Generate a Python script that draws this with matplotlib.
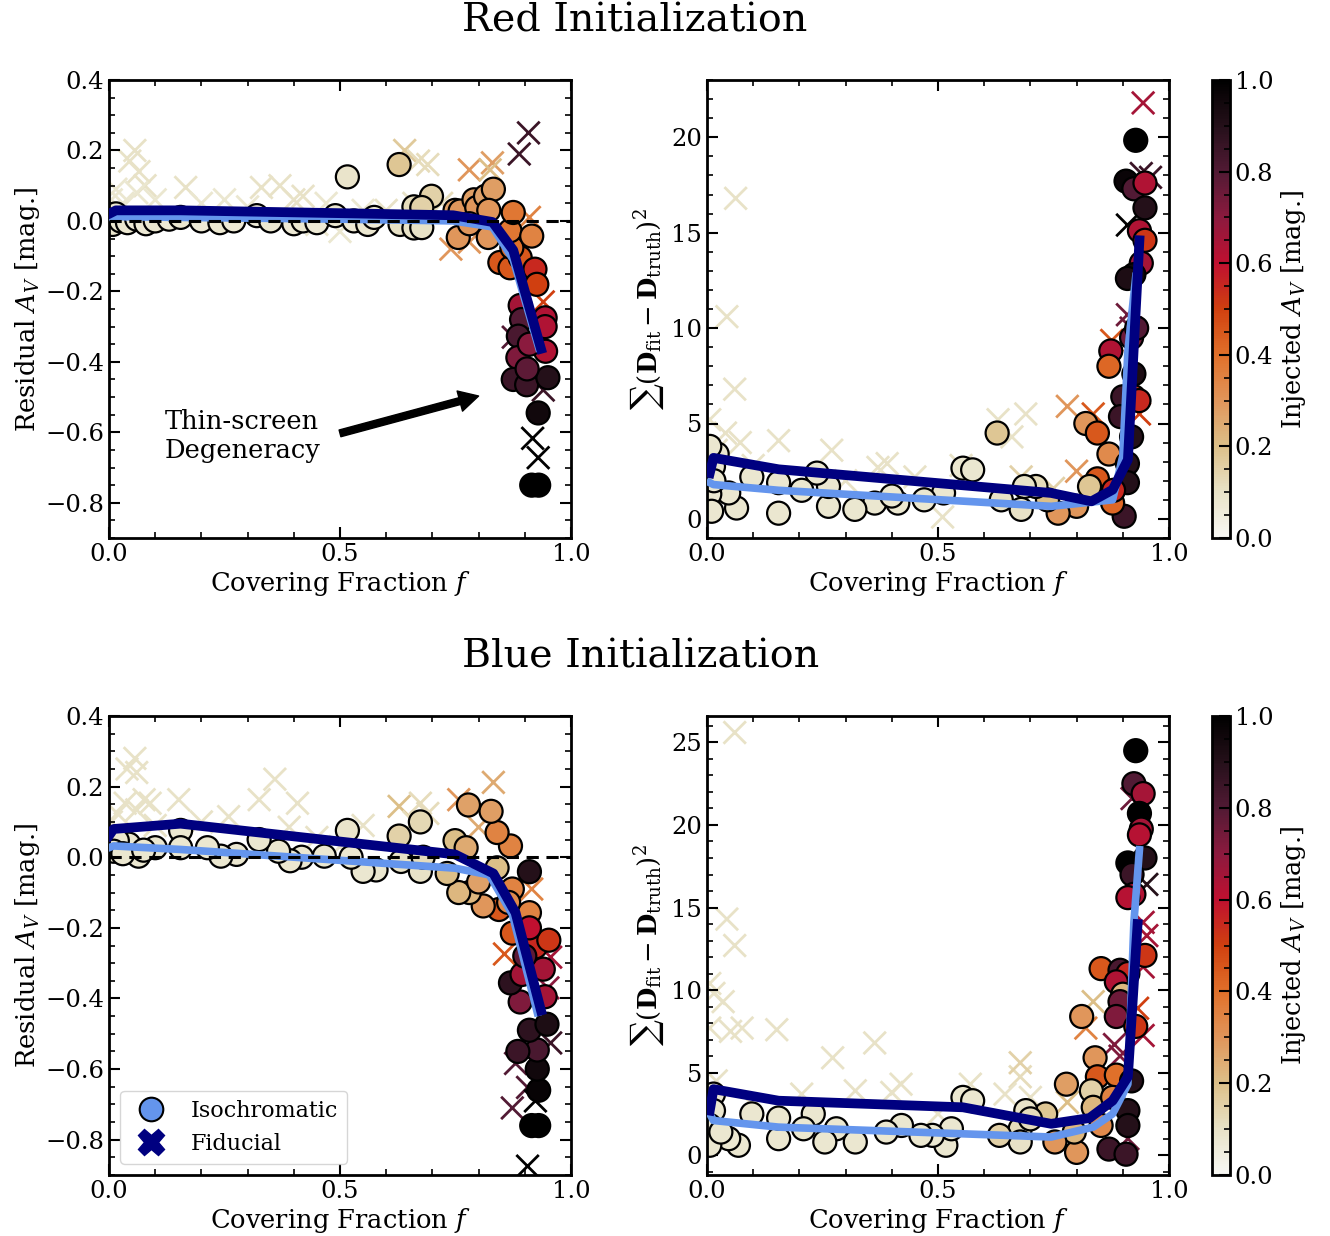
import numpy as np
import matplotlib
matplotlib.use("Agg")
import matplotlib.pyplot as plt
from matplotlib.colors import LinearSegmentedColormap, Normalize
from matplotlib.cm import ScalarMappable
from matplotlib.lines import Line2D
from matplotlib.ticker import AutoMinorLocator, MultipleLocator

plt.rcParams['font.family'] = ['DejaVu Serif']
plt.rcParams['mathtext.fontset'] = 'dejavuserif'

# ---- colormap (cream -> orange -> red -> black)
cmap = LinearSegmentedColormap.from_list('av', [
    (0.0, '#f8f8f4'), (0.1, '#e8e2c6'), (0.2, '#dcbf88'), (0.3, '#e0955a'),
    (0.4, '#e0702a'), (0.5, '#d0400f'), (0.6, '#c01030'), (0.7, '#8c1a3e'),
    (0.8, '#521a34'), (0.9, '#25101a'), (1.0, '#000000')])
norm = Normalize(0, 1)

# ================= Red initialization: residual A_V =================
red_res_iso_f = [0.003, 0.008, 0.015, 0.025, 0.04, 0.06, 0.08, 0.1, 0.13, 0.155,
                 0.2, 0.24, 0.27, 0.32, 0.35, 0.4, 0.42, 0.45, 0.49, 0.516,
                 0.53, 0.56, 0.574, 0.628, 0.63, 0.66, 0.698, 0.66, 0.677, 0.677,
                 0.749, 0.756, 0.76, 0.79, 0.796, 0.815, 0.832, 0.822, 0.821, 0.78,
                 0.846, 0.868, 0.89, 0.872, 0.868, 0.915, 0.875, 0.922, 0.926, 0.89,
                 0.893, 0.944, 0.944, 0.886, 0.885, 0.945, 0.875, 0.904, 0.95, 0.929,
                 0.915, 0.93, 0.91, 0.905]
red_res_iso_y = [0.01, -0.01, 0.02, 0.0, -0.005, 0.005, -0.008, 0.0, 0.005, 0.01,
                 0.0, -0.005, 0.0, 0.015, 0.0, -0.008, 0.0, -0.005, 0.015, 0.125,
                 0.0, -0.01, 0.01, 0.16, -0.01, 0.04, 0.07, -0.02, 0.038, -0.019,
                 0.03, -0.047, 0.028, 0.06, 0.038, 0.07, 0.09, 0.03, -0.047, -0.008,
                 -0.118, -0.133, -0.104, -0.076, -0.028, -0.043, 0.024, -0.137, -0.18, -0.24,
                 -0.28, -0.275, -0.30, -0.327, -0.388, -0.37, -0.45, -0.465, -0.445, -0.545,
                 -0.75, -0.75, -0.35, -0.42]
red_res_iso_av = [0.08, 0.08, 0.08, 0.08, 0.08, 0.07, 0.07, 0.08, 0.07, 0.08,
                  0.07, 0.08, 0.07, 0.07, 0.08, 0.07, 0.08, 0.07, 0.08, 0.09,
                  0.07, 0.08, 0.07, 0.18, 0.1, 0.12, 0.15, 0.1, 0.15, 0.1,
                  0.27, 0.3, 0.3, 0.28, 0.3, 0.27, 0.28, 0.3, 0.3, 0.3,
                  0.45, 0.45, 0.45, 0.4, 0.38, 0.35, 0.38, 0.55, 0.5, 0.65,
                  0.8, 0.63, 0.63, 0.82, 0.72, 0.63, 0.85, 0.85, 0.9, 0.95,
                  1.0, 1.0, 0.7, 0.78]

red_res_fid_f = [0.005, 0.015, 0.03, 0.045, 0.056, 0.065, 0.078, 0.06, 0.1, 0.166,
                 0.2, 0.25, 0.3, 0.33, 0.37, 0.4, 0.42, 0.47, 0.5, 0.55,
                 0.6, 0.64, 0.67, 0.69, 0.66, 0.74, 0.78, 0.83, 0.825, 0.78,
                 0.888, 0.908, 0.91, 0.94, 0.875, 0.917, 0.929, 0.94, 0.72, 0.45]
red_res_fid_y = [0.06, 0.09, 0.05, 0.17, 0.2, 0.14, 0.1, 0.08, 0.06, 0.095,
                 0.05, 0.06, 0.04, 0.095, 0.1, 0.06, 0.07, 0.05, -0.03, 0.03,
                 0.03, 0.2, 0.17, 0.16, 0.05, -0.08, 0.145, 0.165, 0.145, -0.06,
                 0.19, 0.25, 0.01, -0.23, -0.33, -0.617, -0.672, -0.48, 0.05, -0.01]
red_res_fid_av = [0.08, 0.08, 0.08, 0.1, 0.1, 0.1, 0.1, 0.08, 0.08, 0.1,
                  0.08, 0.08, 0.08, 0.1, 0.1, 0.1, 0.1, 0.08, 0.08, 0.08,
                  0.1, 0.17, 0.12, 0.12, 0.1, 0.3, 0.3, 0.28, 0.2, 0.3,
                  0.85, 0.85, 0.35, 0.5, 0.8, 1.0, 1.0, 0.85, 0.12, 0.08]

red_res_fid_line_f = [0.0, 0.015, 0.155, 0.5, 0.745, 0.83, 0.875, 0.935]
red_res_fid_line_y = [0.02, 0.03, 0.03, 0.022, 0.016, -0.003, -0.083, -0.363]
red_res_iso_line_f = [0.0, 0.015, 0.155, 0.5, 0.745, 0.83, 0.875, 0.93]
red_res_iso_line_y = [0.01, 0.012, 0.01, 0.005, 0.0, -0.017, -0.11, -0.36]

# ================= Red initialization: sum of squares =================
red_chi_iso_f = [0.928, 0.907, 0.924, 0.948, 0.948, 0.936, 0.948, 0.94, 0.924, 0.919,
                 0.874, 0.87, 0.924, 0.924, 0.9, 0.895, 0.919, 0.82, 0.845, 0.87,
                 0.845, 0.91, 0.91, 0.903, 0.878, 0.828, 0.8, 0.76, 0.737, 0.712,
                 0.687, 0.68, 0.637, 0.628, 0.554, 0.575, 0.512, 0.47, 0.413, 0.363,
                 0.32, 0.263, 0.263, 0.238, 0.205, 0.155, 0.155, 0.097, 0.064, 0.047,
                 0.022, 0.014, 0.006, 0.006, 0.01, 0.015, 0.935, 0.93, 0.4, 0.88,
                 0.91]
red_chi_iso_y = [19.84, 17.7, 17.3, 17.6, 16.3, 15.1, 14.6, 13.4, 12.8, 9.5,
                 8.8, 8.0, 7.6, 6.4, 6.4, 5.36, 4.3, 5.0, 4.5, 3.4,
                 2.1, 2.9, 1.9, 0.14, 0.83, 1.7, 0.66, 0.3, 1.0, 1.7,
                 1.7, 0.5, 1.0, 4.5, 2.66, 2.57, 1.36, 1.0, 0.83, 0.83,
                 0.5, 0.66, 1.7, 2.4, 1.5, 0.3, 1.9, 2.2, 0.57, 1.36,
                 3.4, 2.75, 3.8, 1.3, 0.4, 2.0, 6.2, 10.0, 1.2, 1.5,
                 12.6]
red_chi_iso_av = [1.0, 0.97, 0.8, 0.63, 0.9, 0.63, 0.52, 0.65, 0.95, 0.75,
                  0.63, 0.42, 0.92, 0.52, 0.85, 0.85, 0.9, 0.3, 0.45, 0.33,
                  0.45, 0.9, 0.9, 0.85, 0.42, 0.18, 0.3, 0.3, 0.2, 0.12,
                  0.1, 0.1, 0.1, 0.18, 0.08, 0.08, 0.08, 0.08, 0.08, 0.08,
                  0.08, 0.08, 0.08, 0.08, 0.08, 0.08, 0.08, 0.08, 0.08, 0.08,
                  0.08, 0.08, 0.08, 0.08, 0.08, 0.08, 0.55, 0.8, 0.08, 0.55,
                  0.92]

red_chi_fid_f = [0.062, 0.043, 0.06, 0.006, 0.04, 0.072, 0.155, 0.27, 0.37, 0.39,
                 0.51, 0.63, 0.69, 0.66, 0.78, 0.876, 0.91, 0.918, 0.944, 0.96,
                 0.91, 0.936, 0.836, 0.68, 0.8, 0.3, 0.45, 0.55, 0.02, 0.1,
                 0.94, 0.75]
red_chi_fid_y = [16.8, 10.6, 6.8, 5.2, 4.5, 4.0, 4.1, 3.6, 2.7, 2.9,
                 0.1, 5.2, 5.5, 4.3, 5.9, 9.35, 10.7, 10.0, 21.8, 17.9,
                 15.4, 5.5, 5.5, 2.2, 2.5, 2.0, 2.2, 2.8, 3.6, 2.8,
                 18.1, 1.6]
red_chi_fid_av = [0.1, 0.1, 0.1, 0.1, 0.1, 0.1, 0.1, 0.1, 0.1, 0.1,
                  0.1, 0.1, 0.1, 0.1, 0.3, 0.45, 0.75, 0.75, 0.65, 0.85,
                  1.0, 0.5, 0.45, 0.15, 0.3, 0.1, 0.1, 0.1, 0.1, 0.1,
                  0.85, 0.15]

red_chi_fid_line_f = [0.006, 0.014, 0.155, 0.745, 0.832, 0.878, 0.911, 0.936]
red_chi_fid_line_y = [2.4, 3.2, 2.6, 1.36, 0.92, 1.53, 3.1, 14.6]
red_chi_iso_line_f = [0.006, 0.014, 0.155, 0.745, 0.878, 0.9, 0.911, 0.928]
red_chi_iso_line_y = [1.9, 1.8, 1.5, 0.66, 1.0, 3.3, 8.8, 12.7]

# ================= Blue initialization: residual A_V =================
blue_res_iso_f = [0.915, 0.93, 0.93, 0.927, 0.927, 0.885, 0.91, 0.948, 0.944, 0.89,
                  0.869, 0.894, 0.94, 0.923, 0.952, 0.873, 0.844, 0.91, 0.873, 0.91,
                  0.865, 0.81, 0.78, 0.757, 0.8, 0.84, 0.869, 0.84, 0.827, 0.778,
                  0.749, 0.773, 0.732, 0.674, 0.628, 0.632, 0.674, 0.68, 0.578, 0.55,
                  0.516, 0.524, 0.466, 0.417, 0.392, 0.367, 0.325, 0.276, 0.242, 0.213,
                  0.155, 0.155, 0.1, 0.064, 0.043, 0.018, 0.01, 0.03, 0.075, 0.9,
                  0.91]
blue_res_iso_y = [-0.76, -0.76, -0.66, -0.60, -0.546, -0.55, -0.49, -0.473, -0.395, -0.41,
                  -0.356, -0.332, -0.317, -0.254, -0.235, -0.215, -0.148, -0.157, -0.09, -0.041,
                  -0.128, -0.138, -0.1, -0.1, -0.07, -0.03, 0.032, 0.07, 0.13, 0.148,
                  0.047, 0.027, -0.046, 0.1, 0.06, -0.012, -0.04, 0.0, -0.036, -0.04,
                  0.076, 0.0, 0.003, 0.0, -0.01, 0.017, 0.05, 0.008, 0.003, 0.027,
                  0.076, 0.027, 0.027, 0.003, 0.037, 0.047, 0.017, 0.01, 0.02, -0.28,
                  -0.2]
blue_res_iso_av = [1.0, 1.0, 0.98, 0.95, 0.82, 0.85, 0.88, 0.92, 0.65, 0.72,
                   0.88, 0.65, 0.65, 0.55, 0.52, 0.45, 0.45, 0.35, 0.35, 0.9,
                   0.33, 0.3, 0.22, 0.22, 0.27, 0.2, 0.35, 0.35, 0.28, 0.27,
                   0.2, 0.25, 0.2, 0.13, 0.15, 0.1, 0.1, 0.12, 0.08, 0.08,
                   0.09, 0.08, 0.08, 0.08, 0.08, 0.08, 0.08, 0.08, 0.08, 0.08,
                   0.08, 0.08, 0.08, 0.08, 0.08, 0.08, 0.08, 0.08, 0.08, 0.78,
                   0.6]

blue_res_fid_f = [0.056, 0.039, 0.06, 0.076, 0.035, 0.018, 0.06, 0.089, 0.151, 0.259,
                  0.325, 0.359, 0.408, 0.39, 0.45, 0.628, 0.674, 0.69, 0.757, 0.8,
                  0.832, 0.915, 0.856, 0.956, 0.88, 0.873, 0.906, 0.923, 0.906, 0.956,
                  0.005, 0.1, 0.2, 0.5, 0.55, 0.95, 0.66]
blue_res_fid_y = [0.28, 0.25, 0.24, 0.163, 0.153, 0.124, 0.134, 0.153, 0.163, 0.115,
                  0.163, 0.221, 0.153, 0.085, 0.056, 0.144, 0.153, 0.124, 0.163, 0.085,
                  0.212, -0.09, -0.274, -0.283, -0.584, -0.71, -0.652, -0.69, -0.875, -0.526,
                  0.1, 0.09, 0.1, 0.03, 0.09, -0.37, 0.1]
blue_res_fid_av = [0.1, 0.1, 0.1, 0.1, 0.1, 0.1, 0.1, 0.1, 0.1, 0.1,
                   0.1, 0.1, 0.1, 0.1, 0.1, 0.2, 0.12, 0.12, 0.3, 0.25,
                   0.25, 0.35, 0.45, 0.65, 0.8, 0.8, 0.8, 1.0, 1.0, 0.85,
                   0.1, 0.1, 0.1, 0.1, 0.1, 0.7, 0.12]

blue_res_fid_line_f = [0.0, 0.01, 0.155, 0.749, 0.832, 0.88, 0.935]
blue_res_fid_line_y = [0.061, 0.08, 0.095, 0.008, -0.046, -0.157, -0.434]
blue_res_iso_line_f = [0.0, 0.01, 0.155, 0.749, 0.823, 0.873, 0.927]
blue_res_iso_line_y = [0.027, 0.032, 0.022, -0.031, -0.05, -0.162, -0.44]

# ================= Blue initialization: sum of squares =================
blue_chi_iso_f = [0.928, 0.924, 0.944, 0.936, 0.94, 0.936, 0.911, 0.948, 0.92, 0.924,
                  0.911, 0.948, 0.853, 0.894, 0.911, 0.886, 0.9, 0.894, 0.886, 0.928,
                  0.811, 0.84, 0.845, 0.886, 0.919, 0.778, 0.832, 0.836, 0.878, 0.911,
                  0.911, 0.853, 0.87, 0.907, 0.8, 0.795, 0.753, 0.733, 0.69, 0.678,
                  0.678, 0.633, 0.554, 0.575, 0.517, 0.529, 0.488, 0.463, 0.421, 0.388,
                  0.321, 0.28, 0.255, 0.23, 0.209, 0.155, 0.155, 0.097, 0.068, 0.047,
                  0.014, 0.014, 0.006, 0.006, 0.03, 0.7]
blue_chi_iso_y = [24.5, 22.5, 21.9, 20.7, 19.75, 19.4, 17.7, 18.0, 17.0, 15.8,
                  15.6, 12.1, 11.3, 11.2, 11.0, 10.5, 9.75, 9.3, 8.4, 7.8,
                  8.4, 5.9, 4.75, 4.85, 4.5, 4.3, 3.9, 2.9, 3.5, 2.7,
                  1.8, 1.8, 0.37, 0.06, 0.17, 1.4, 0.8, 2.5, 2.7, 1.6,
                  0.8, 1.2, 3.5, 3.3, 0.6, 1.6, 1.2, 1.2, 1.8, 1.4,
                  0.8, 1.6, 0.8, 2.5, 1.6, 1.0, 2.25, 2.5, 0.6, 1.0,
                  3.7, 2.7, 1.8, 0.6, 1.4, 2.2]
blue_chi_iso_av = [1.0, 0.8, 0.65, 1.0, 0.65, 0.62, 1.0, 0.9, 0.85, 0.63,
                   0.62, 0.52, 0.45, 0.82, 0.55, 0.63, 0.22, 0.75, 0.72, 0.52,
                   0.3, 0.3, 0.45, 0.4, 0.9, 0.28, 0.15, 0.22, 0.35, 0.9,
                   0.9, 0.33, 0.85, 0.85, 0.3, 0.22, 0.3, 0.18, 0.1, 0.12,
                   0.1, 0.15, 0.08, 0.08, 0.08, 0.08, 0.08, 0.08, 0.08, 0.08,
                   0.08, 0.08, 0.08, 0.08, 0.08, 0.08, 0.08, 0.08, 0.08, 0.08,
                   0.08, 0.08, 0.08, 0.08, 0.08, 0.12]

blue_chi_fid_f = [0.06, 0.043, 0.06, 0.006, 0.015, 0.035, 0.006, 0.051, 0.076, 0.151,
                  0.272, 0.363, 0.321, 0.205, 0.4, 0.42, 0.57, 0.678, 0.678, 0.645,
                  0.836, 0.82, 0.882, 0.894, 0.944, 0.952, 0.944, 0.932, 0.944, 0.952,
                  0.911, 0.92, 0.78, 0.7, 0.1, 0.02, 0.5]
blue_chi_fid_y = [25.6, 14.3, 12.7, 10.4, 9.8, 9.3, 7.7, 7.5, 7.7, 7.6,
                  5.9, 6.8, 3.9, 3.7, 3.8, 4.3, 4.3, 4.75, 5.6, 3.7,
                  9.3, 7.7, 6.7, 6.0, 14.1, 13.3, 11.4, 8.9, 7.25, 16.4,
                  1.0, 21.6, 3.2, 3.5, 3.0, 4.5, 2.5]
blue_chi_fid_av = [0.1, 0.1, 0.1, 0.1, 0.1, 0.1, 0.1, 0.1, 0.1, 0.1,
                   0.1, 0.1, 0.1, 0.1, 0.1, 0.1, 0.1, 0.12, 0.15, 0.1,
                   0.2, 0.35, 0.72, 0.72, 0.65, 0.65, 0.65, 0.5, 0.65, 0.9,
                   0.75, 0.75, 0.2, 0.1, 0.1, 0.1, 0.1]

blue_chi_fid_line_f = [0.006, 0.014, 0.155, 0.554, 0.745, 0.828, 0.878, 0.911, 0.932]
blue_chi_fid_line_y = [2.7, 4.0, 3.3, 2.9, 1.9, 2.25, 3.3, 4.75, 14.0]
blue_chi_iso_line_f = [0.006, 0.014, 0.155, 0.745, 0.836, 0.878, 0.911, 0.924, 0.936]
blue_chi_iso_line_y = [2.5, 2.1, 1.7, 1.1, 1.7, 2.5, 4.3, 14.1, 18.5]

W, H = 1330, 1236
fig = plt.figure(figsize=(W / 100, H / 100), dpi=100)

TICK_FS = 17.5
LABEL_FS = 18.5


def px_axes(l, t, r, b):
    return fig.add_axes([l / W, 1 - b / H, (r - l) / W, (b - t) / H])


def style(ax):
    ax.tick_params(which='both', direction='in', top=True, right=True, labelsize=TICK_FS)
    ax.tick_params(which='major', length=8, width=1.5)
    ax.tick_params(which='minor', length=4, width=1.2)
    for s in ax.spines.values():
        s.set_linewidth(2)
    ax.xaxis.set_minor_locator(AutoMinorLocator(5))
    ax.yaxis.set_minor_locator(AutoMinorLocator())


def panel(ax, isof, isoy, isoc, fidf, fidy, fidc, flf, fly, ilf, ily):
    ax.scatter(fidf, fidy, c=fidc, cmap=cmap, norm=norm, marker='x', s=260,
               linewidths=2, zorder=1)
    ax.scatter(isof, isoy, c=isoc, cmap=cmap, norm=norm, marker='o', s=275,
               edgecolors='black', linewidths=1.6, zorder=2)
    ax.plot(ilf, ily, color='cornflowerblue', lw=5.5, zorder=3)
    ax.plot(flf, fly, color='navy', lw=7, zorder=4)
    ax.set_xlim(0, 1)
    ax.xaxis.set_major_locator(MultipleLocator(0.5))
    ax.set_xlabel('Covering Fraction $f$', fontsize=LABEL_FS, labelpad=2)
    style(ax)


def res_axes(ax):
    ax.axhline(0, color='black', ls='--', lw=2.2, zorder=5, dashes=(4, 2.5))
    ax.set_ylim(-0.9, 0.4)
    ax.yaxis.set_major_locator(MultipleLocator(0.2))
    ax.set_ylabel('Residual $A_V$ [mag.]', fontsize=LABEL_FS, labelpad=2)


chi_label = r'$\sum(\mathbf{D}_{\rm fit}-\mathbf{D}_{\rm truth})^2$'

# ---- Red row
ax1 = px_axes(109, 80, 571, 538)
panel(ax1, red_res_iso_f, red_res_iso_y, red_res_iso_av, red_res_fid_f, red_res_fid_y,
      red_res_fid_av, red_res_fid_line_f, red_res_fid_line_y, red_res_iso_line_f, red_res_iso_line_y)
res_axes(ax1)
ax1.text(0.12, -0.61, 'Thin-screen\nDegeneracy', fontsize=LABEL_FS, va='center', ha='left')
ax1.annotate('', xy=(0.80, -0.497), xytext=(0.50, -0.603),
             arrowprops=dict(facecolor='black', edgecolor='black', width=5,
                             headwidth=15, headlength=14, shrink=0))

ax2 = px_axes(707, 80, 1169, 538)
panel(ax2, red_chi_iso_f, red_chi_iso_y, red_chi_iso_av, red_chi_fid_f, red_chi_fid_y,
      red_chi_fid_av, red_chi_fid_line_f, red_chi_fid_line_y, red_chi_iso_line_f, red_chi_iso_line_y)
ax2.set_ylim(-1, 23)
ax2.yaxis.set_major_locator(MultipleLocator(5))
ax2.set_ylabel(chi_label, fontsize=LABEL_FS)

# ---- Blue row
ax3 = px_axes(109, 716, 571, 1175)
panel(ax3, blue_res_iso_f, blue_res_iso_y, blue_res_iso_av, blue_res_fid_f, blue_res_fid_y,
      blue_res_fid_av, blue_res_fid_line_f, blue_res_fid_line_y, blue_res_iso_line_f, blue_res_iso_line_y)
res_axes(ax3)
handles = [Line2D([], [], ls='', marker='o', markersize=17, markerfacecolor='cornflowerblue',
                  markeredgecolor='black', markeredgewidth=1.5),
           Line2D([], [], ls='', marker='X', markersize=19, color='navy')]
ax3.legend(handles, ['Isochromatic', 'Fiducial'], loc='lower left', fontsize=16,
           handletextpad=0.8, borderpad=0.4, labelspacing=0.5)

ax4 = px_axes(707, 716, 1169, 1175)
panel(ax4, blue_chi_iso_f, blue_chi_iso_y, blue_chi_iso_av, blue_chi_fid_f, blue_chi_fid_y,
      blue_chi_fid_av, blue_chi_fid_line_f, blue_chi_fid_line_y, blue_chi_iso_line_f, blue_chi_iso_line_y)
ax4.set_ylim(-1.2, 26.6)
ax4.yaxis.set_major_locator(MultipleLocator(5))
ax4.set_ylabel(chi_label, fontsize=LABEL_FS)

# ---- colorbars
for top, bot in [(80, 538), (716, 1175)]:
    cax = px_axes(1212, top, 1230, bot)
    cb = fig.colorbar(ScalarMappable(norm=norm, cmap=cmap), cax=cax)
    cb.set_ticks([0, 0.2, 0.4, 0.6, 0.8, 1.0])
    cb.ax.yaxis.set_minor_locator(MultipleLocator(0.05))
    cb.ax.tick_params(which='both', direction='in', labelsize=TICK_FS)
    cb.ax.tick_params(which='major', length=8, width=1.5)
    cb.ax.tick_params(which='minor', length=4, width=1.2)
    cb.outline.set_linewidth(2)
    cb.set_label('Injected $A_V$ [mag.]', fontsize=LABEL_FS)

fig.text(0.477, 1 - 21 / H, 'Red Initialization', fontsize=28.5, ha='center', va='center')
fig.text(0.482, 1 - 657 / H, 'Blue Initialization', fontsize=28.5, ha='center', va='center')

fig.savefig('out.png', dpi=100)
